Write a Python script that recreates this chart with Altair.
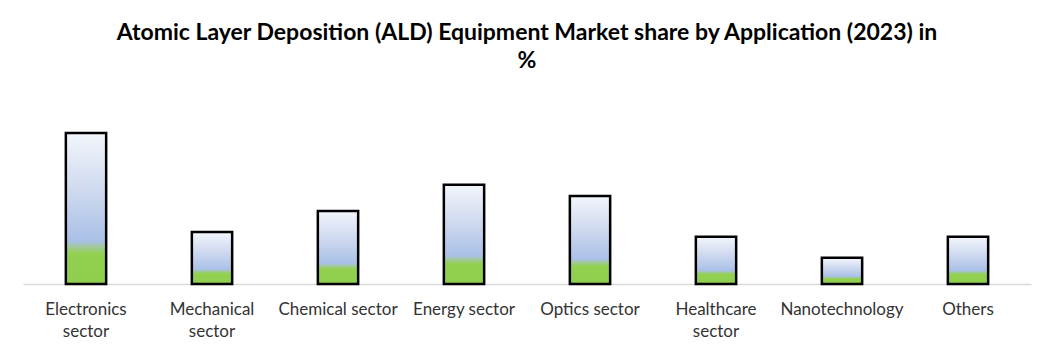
import altair as alt
import pandas as pd

categories = ["Electronics\nsector", "Mechanical\nsector", "Chemical sector", "Energy sector",
              "Optics sector", "Healthcare\nsector", "Nanotechnology", "Others"]
shares = [25.9, 8.9, 12.5, 17.0, 15.1, 8.1, 4.5, 8.1]

df = pd.DataFrame({"application": categories, "share": shares})

gradient = alt.LinearGradient(
    gradient="linear",
    x1=0, y1=0, x2=0, y2=1,
    stops=[
        alt.GradientStop(color="#f2f5fb", offset=0.0),
        alt.GradientStop(color="#d2dcf0", offset=0.35),
        alt.GradientStop(color="#a9c0e6", offset=0.72),
        alt.GradientStop(color="#a2c9a0", offset=0.75),
        alt.GradientStop(color="#92d050", offset=0.80),
        alt.GradientStop(color="#8fce4e", offset=1.0),
    ],
)

chart = (
    alt.Chart(df)
    .mark_bar(fill=gradient, stroke="black", strokeWidth=2.5)
    .encode(
        x=alt.X(
            "application:N",
            sort=categories,
            scale=alt.Scale(paddingInner=0.68, paddingOuter=0.34),
            axis=alt.Axis(
                title=None,
                labelAngle=0,
                labelExpr="split(datum.label, '\\n')",
                labelFont="Lato",
                labelFontSize=17,
                labelColor="#333333",
                labelPadding=17,
                labelLineHeight=22,
                ticks=False,
                domainColor="#d9d9d9",
                domainWidth=1.5,
            ),
        ),
        y=alt.Y("share:Q", scale=alt.Scale(domain=[0, 30]), axis=None),
    )
    .properties(
        width=1008,
        height=175,
        padding={"left": 15, "top": 101, "right": 10, "bottom": 62},
        autosize=alt.AutoSizeParams(type="none"),
        title=alt.TitleParams(
            text=["Atomic Layer Deposition (ALD) Equipment Market share by Application (2023) in", "%"],
            font="Lato",
            fontSize=23,
            fontWeight="bold",
            color="#000000",
            anchor="middle",
            lineHeight=28,
            offset=36,
        ),
    )
    .configure_view(stroke=None)
)

chart.save("out.html", embed_options={"renderer": "svg", "actions": False})
